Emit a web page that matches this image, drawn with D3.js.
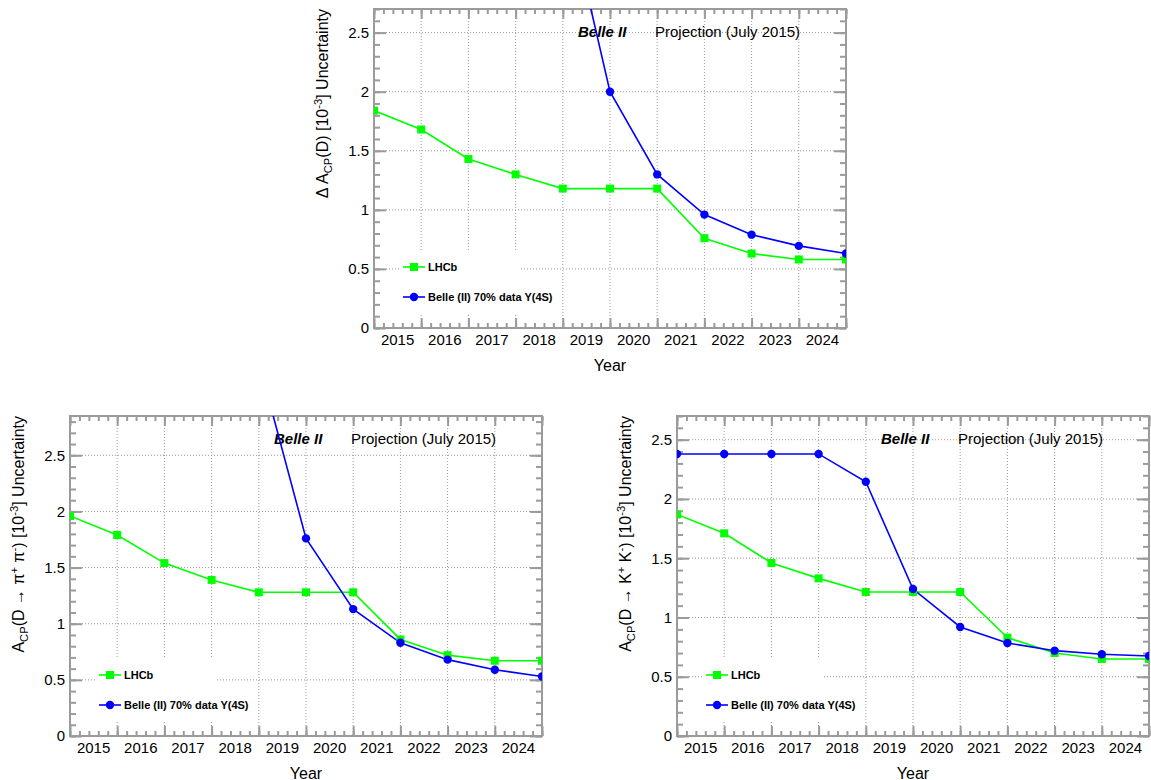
<!DOCTYPE html>
<html>
<head>
<meta charset="utf-8">
<script src="https://cdnjs.cloudflare.com/ajax/libs/d3/7.8.5/d3.min.js"></script>
<style>
  body { margin: 0; background: #fff; }
  svg { display: block; }
  text { font-family: "Liberation Sans", Arial, Helvetica, sans-serif; fill: #000; }
</style>
</head>
<body>
<div id="chart"></div>
<script>
// year bins on the x axis (points sit on the bin edges)
var years = ['2015', '2016', '2017', '2018', '2019', '2020', '2021', '2022', '2023', '2024'];

// Delta A_CP(D) uncertainty [1e-3]
var lhcbDeltaAcp = [1.84, 1.68, 1.43, 1.30, 1.18, 1.18, 1.18, 0.76, 0.63, 0.58, 0.58];
var belleDeltaAcp = [null, null, null, null, 3.73, 2.00, 1.30, 0.96, 0.79, 0.695, 0.63];

// A_CP(D -> pi+ pi-) uncertainty [1e-3]
var lhcbPiPi = [1.96, 1.79, 1.54, 1.39, 1.28, 1.28, 1.28, 0.86, 0.72, 0.67, 0.67];
var bellePiPi = [null, null, null, null, 3.33, 1.76, 1.13, 0.83, 0.68, 0.59, 0.53];

// A_CP(D -> K+ K-) uncertainty [1e-3]
var lhcbKK = [1.87, 1.71, 1.46, 1.33, 1.215, 1.215, 1.215, 0.83, 0.70, 0.65, 0.65];
var belleKK = [2.38, 2.38, 2.38, 2.38, 2.145, 1.24, 0.92, 0.785, 0.72, 0.69, 0.675];

var legendLabels = ['LHCb', 'Belle (II) 70% data Y(4S)'];
var xTitle = 'Year';

//colors and fonts
var frameColor = '#9b9b9b',
  gridColor = '#9b9b9b',
  lhcbColor = '#00ff00',
  belleColor = '#0000ff';

//panel layout, y titles are written as [text, kind] pieces
var panels = [
  { left: 374, top: 9, width: 472, height: 319, yMax: 2.7,
    lhcb: lhcbDeltaAcp, belle: belleDeltaAcp,
    yTitle: [['\u0394 A', ''], ['CP', 'sub'], ['(D) [10', ''], ['-3', 'sup'], ['] Uncertainty', '']] },
  { left: 70, top: 416, width: 472, height: 320, yMax: 2.85,
    lhcb: lhcbPiPi, belle: bellePiPi,
    yTitle: [['A', ''], ['CP', 'sub'], ['(D \u2192 \u03c0', ''], ['+', 'sup'], [' \u03c0', ''], ['-', 'sup'], [') [10', ''], ['-3', 'sup'], ['] Uncertainty', '']] },
  { left: 677, top: 416, width: 472, height: 320, yMax: 2.7,
    lhcb: lhcbKK, belle: belleKK,
    yTitle: [['A', ''], ['CP', 'sub'], ['(D \u2192 K', ''], ['+', 'sup'], [' K', ''], ['-', 'sup'], [') [10', ''], ['-3', 'sup'], ['] Uncertainty', '']] }
];

var svg = d3.select('#chart').append('svg')
  .attr('width', 1151)
  .attr('height', 780);

svg.append('rect').attr('width', 1151).attr('height', 780).attr('fill', '#fff');

//write text with sub/superscripts using dy offsets
function richText(sel, parts) {
  var shift = 0;
  parts.forEach(function (p) {
    var target = p[1] === 'sub' ? 4 : (p[1] === 'sup' ? -6 : 0);
    var t = sel.append('tspan')
      .attr('dy', target - shift)
      .text(p[0]);
    if (p[1]) t.attr('font-size', '70%');
    shift = target;
  });
}

//style the axis ticks like the ROOT frame
function styleTicks(g) {
  g.select('.domain').remove();
  g.selectAll('.tick line').attr('stroke', frameColor).attr('stroke-width', 2);
}

function drawPanel(p, idx) {
  var w = p.width, h = p.height;
  var g = svg.append('g').attr('transform', 'translate(' + p.left + ',' + p.top + ')');

  var x = d3.scaleLinear().domain([0, years.length]).range([0, w]);
  var xBand = d3.scaleBand().domain(years).range([0, w]);
  var y = d3.scaleLinear().domain([0, p.yMax]).range([h, 0]);

  var xMajor = d3.range(0, years.length + 1);
  var xMinor = x.ticks(50);
  var yMajor = y.ticks(6);
  var yMinor = y.ticks(30);

  //dotted grid
  var grid = g.append('g')
    .attr('stroke', gridColor)
    .attr('stroke-width', 1)
    .attr('stroke-dasharray', '1,2');
  grid.selectAll('line.gx').data(xMajor.slice(1, -1)).enter().append('line')
    .attr('x1', function (d) { return x(d); })
    .attr('x2', function (d) { return x(d); })
    .attr('y1', 0).attr('y2', h);
  grid.selectAll('line.gy').data(yMajor.filter(function (d) { return d > 0; })).enter().append('line')
    .attr('x1', 0).attr('x2', w)
    .attr('y1', function (d) { return y(d); })
    .attr('y2', function (d) { return y(d); });

  //ticks on all four sides pointing inward
  g.append('g').attr('transform', 'translate(0,' + h + ')')
    .call(d3.axisBottom(x).tickValues(xMinor).tickSize(-5).tickFormat('')).call(styleTicks);
  g.append('g').attr('transform', 'translate(0,' + h + ')')
    .call(d3.axisBottom(x).tickValues(xMajor).tickSize(-10).tickFormat('')).call(styleTicks);
  g.append('g')
    .call(d3.axisTop(x).tickValues(xMinor).tickSize(-5).tickFormat('')).call(styleTicks);
  g.append('g')
    .call(d3.axisTop(x).tickValues(xMajor).tickSize(-10).tickFormat('')).call(styleTicks);
  g.append('g')
    .call(d3.axisLeft(y).tickValues(yMinor).tickSize(-6).tickFormat('')).call(styleTicks);
  g.append('g')
    .call(d3.axisLeft(y).tickValues(yMajor).tickSize(-12).tickFormat('')).call(styleTicks);
  g.append('g').attr('transform', 'translate(' + w + ',0)')
    .call(d3.axisRight(y).tickValues(yMinor).tickSize(-6).tickFormat('')).call(styleTicks);
  g.append('g').attr('transform', 'translate(' + w + ',0)')
    .call(d3.axisRight(y).tickValues(yMajor).tickSize(-12).tickFormat('')).call(styleTicks);

  //tick labels
  var xLab = g.append('g').attr('transform', 'translate(0,' + h + ')')
    .call(d3.axisBottom(xBand).tickSize(0).tickPadding(6));
  xLab.select('.domain').remove();
  xLab.selectAll('text').attr('font-size', 15).style('font-family', null);

  var yLab = g.append('g')
    .call(d3.axisLeft(y).tickValues(yMajor).tickSize(0).tickPadding(5)
      .tickFormat(function (d) { return String(d); }));
  yLab.select('.domain').remove();
  yLab.selectAll('text').attr('font-size', 15).style('font-family', null);

  //frame
  g.append('rect')
    .attr('width', w).attr('height', h)
    .attr('fill', 'none')
    .attr('stroke', frameColor)
    .attr('stroke-width', 2);

  //axis titles
  g.append('text')
    .attr('x', w / 2).attr('y', h + 43)
    .attr('text-anchor', 'middle')
    .attr('font-size', 16)
    .text(xTitle);

  var yt = g.append('text')
    .attr('transform', 'translate(-46,0) rotate(-90)')
    .attr('text-anchor', 'end')
    .attr('font-size', 16);
  richText(yt, p.yTitle);

  //experiment tag
  g.append('text')
    .attr('x', 204).attr('y', 28)
    .attr('font-size', 15)
    .attr('font-weight', 'bold')
    .attr('font-style', 'italic')
    .text('Belle II');
  g.append('text')
    .attr('x', 281).attr('y', 28)
    .attr('font-size', 15)
    .text('Projection (July 2015)');

  //data, clipped to the frame
  var clipId = 'clip' + idx;
  g.append('clipPath').attr('id', clipId)
    .append('rect').attr('width', w).attr('height', h);
  var plot = g.append('g').attr('clip-path', 'url(#' + clipId + ')');

  var line = d3.line()
    .defined(function (d) { return d != null; })
    .x(function (d, i) { return x(i); })
    .y(function (d) { return y(d); });

  plot.append('path').datum(p.lhcb)
    .attr('fill', 'none').attr('stroke', lhcbColor).attr('stroke-width', 1.6)
    .attr('d', line);
  plot.append('path').datum(p.belle)
    .attr('fill', 'none').attr('stroke', belleColor).attr('stroke-width', 1.6)
    .attr('d', line);

  var lhcbPts = p.lhcb.map(function (v, i) { return [i, v]; })
    .filter(function (d) { return d[1] != null && d[1] <= p.yMax; });
  var bellePts = p.belle.map(function (v, i) { return [i, v]; })
    .filter(function (d) { return d[1] != null && d[1] <= p.yMax; });

  plot.selectAll('rect.lhcb').data(lhcbPts).enter().append('rect')
    .attr('class', 'lhcb')
    .attr('x', function (d) { return x(d[0]) - 4; })
    .attr('y', function (d) { return y(d[1]) - 4; })
    .attr('width', 8).attr('height', 8)
    .attr('fill', lhcbColor);
  plot.selectAll('circle.belle').data(bellePts).enter().append('circle')
    .attr('class', 'belle')
    .attr('cx', function (d) { return x(d[0]); })
    .attr('cy', function (d) { return y(d[1]); })
    .attr('r', 4.2)
    .attr('fill', belleColor);

  //legend (white box hides the grid behind it)
  var leg = g.append('g').attr('transform', 'translate(27,' + (h - 78) + ')');
  leg.append('rect').attr('width', 119).attr('height', 63).attr('fill', '#fff');

  var entries = [
    { label: legendLabels[0], color: lhcbColor, shape: 'square', dy: 17 },
    { label: legendLabels[1], color: belleColor, shape: 'circle', dy: 47 }
  ];
  entries.forEach(function (e) {
    var row = leg.append('g').attr('transform', 'translate(0,' + e.dy + ')');
    row.append('line')
      .attr('x1', 2).attr('x2', 24)
      .attr('stroke', e.color).attr('stroke-width', 1.6);
    if (e.shape === 'square') {
      row.append('rect').attr('x', 9).attr('y', -4).attr('width', 8).attr('height', 8).attr('fill', e.color);
    } else {
      row.append('circle').attr('cx', 13).attr('r', 4.2).attr('fill', e.color);
    }
    row.append('text')
      .attr('x', 27).attr('dy', '0.35em')
      .attr('font-size', 11)
      .attr('font-weight', 'bold')
      .text(e.label);
  });
}

panels.forEach(drawPanel);
</script>
</body>
</html>
